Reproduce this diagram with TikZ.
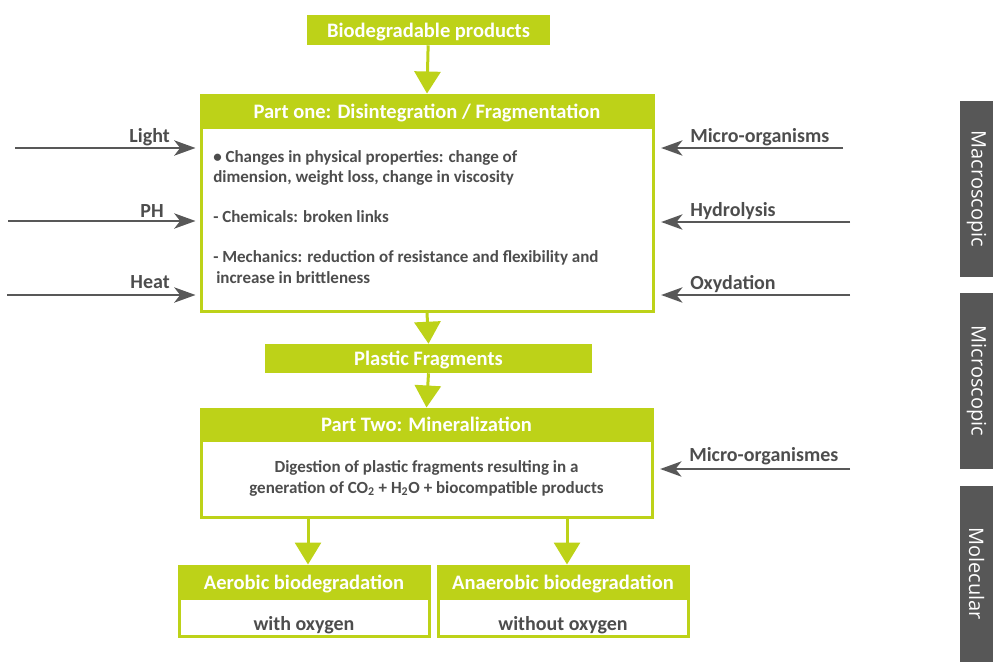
\documentclass[tikz,border=0pt]{standalone}
\usepackage{fontspec}
\setmainfont{Carlito}
\newfontfamily\barfont{Open Sans}
\usetikzlibrary{arrows.meta}
\definecolor{lime}{RGB}{189,210,24}
\definecolor{txtgray}{RGB}{77,77,77}
\definecolor{arrgray}{RGB}{88,88,88}
\definecolor{bargray}{RGB}{87,87,87}
\begin{document}
\begin{tikzpicture}[x=0.75pt,y=-0.75pt,
  gbox/.style={draw=none,fill=lime,text=white,font=\bfseries\fontsize{15.4}{18}\selectfont,inner sep=0pt,text depth=0pt},
  obox/.style={draw=lime,line width=2.25pt,fill=white,inner sep=0pt},
  body/.style={text=txtgray,font=\bfseries\fontsize{12.75}{15.75}\selectfont,inner sep=0pt},
  sublab/.style={text=txtgray,font=\bfseries\fontsize{15}{18}\selectfont,inner sep=0pt,text depth=0pt},
  lab/.style={text=txtgray,font=\bfseries\fontsize{15}{18}\selectfont,inner sep=0pt,text depth=0pt},
  garrow/.style={draw=lime,line width=2.25pt,-{Triangle[width=19.5pt,length=16.5pt]}},
  parrow/.style={draw=arrgray,line width=1.5pt,-{Stealth[length=16pt,width=11.5pt,inset=4.5pt]}},
  bar/.style={fill=bargray,draw=none,text=white,font=\barfont\fontsize{15}{18}\selectfont,inner sep=0pt,minimum height=24.75pt,minimum width=132pt,rotate=-90}
]
\useasboundingbox (0,0) rectangle (1000,665);
% top box
\node[gbox,minimum width=182.25pt,minimum height=22.5pt] (bio) at (428.5,30) {Biodegradable products};
% part one
\node[obox,minimum width=339pt,minimum height=162pt] (p1) at (427,203) {};
\node[gbox,minimum width=339pt,minimum height=26.25pt,anchor=north] (p1h) at (p1.north) {Part one: Disintegration / Fragmentation};
\node[body,anchor=west] (t1) at (213,158) {• Changes in physical properties: change of};
\node[body,anchor=west] (t2) at (213,178) {dimension, weight loss, change in viscosity};
\node[body,anchor=west] (t3) at (213,217) {- Chemicals: broken links};
\node[body,anchor=west] (t4) at (213,258) {- Mechanics: reduction of resistance and flexibility and};
\node[body,anchor=west] (t5) at (216,278) {increase in brittleness};
% plastic fragments
\node[gbox,minimum width=245.25pt,minimum height=21.75pt] (pf) at (428.5,358.5) {Plastic Fragments};
% part two
\node[obox,minimum width=338.25pt,minimum height=81pt] (p2) at (426.5,463) {};
\node[gbox,minimum width=338.25pt,minimum height=25.5pt,anchor=north] (p2h) at (p2.north) {Part Two: Mineralization};
\node[body,align=center] (t6) at (426.5,478) {Digestion of plastic fragments resulting in a\\generation of CO\textsubscript{2} + H\textsubscript{2}O + biocompatible products};
% aerobic
\node[obox,minimum width=187.5pt,minimum height=52.5pt] (a1) at (304,601) {};
\node[gbox,minimum width=187.5pt,minimum height=26.25pt,anchor=north] (a1h) at (a1.north) {Aerobic biodegradation};
\node[sublab] (a1t) at (304,623) {with oxygen};
\node[obox,minimum width=187.5pt,minimum height=52.5pt] (a2) at (563,601) {};
\node[gbox,minimum width=187.5pt,minimum height=26.25pt,anchor=north] (a2h) at (a2.north) {Anaerobic biodegradation};
\node[sublab] (a2t) at (563,623) {without oxygen};
% green arrows
\draw[garrow] (bio) -- (p1.north);
\draw[garrow] (p1.south) -- (pf.north);
\draw[garrow] (pf.south) -- (p2.north);
\draw[garrow] ([xshift=3pt]a1.north |- p2.south) -- ([xshift=3pt]a1.north);
\draw[garrow] ([xshift=3pt]a2.north |- p2.south) -- ([xshift=3pt]a2.north);
% left inputs
\coordinate (lL) at (15,148);
\coordinate (lP) at (8,221);
\coordinate (lH) at (7,295);
\draw[parrow] (lL) -- ([xshift=-3pt]p1.west |- lL);
\draw[parrow] (lP) -- ([xshift=-3pt]p1.west |- lP);
\draw[parrow] (lH) -- ([xshift=-3pt]p1.west |- lH);
\node[lab,anchor=east] (light) at (170,135) {Light};
\node[lab,anchor=east] (ph) at (164,211) {PH};
\node[lab,anchor=east] (heat) at (170,282) {Heat};
% right inputs
\coordinate (rM) at (843,148);
\coordinate (rH) at (850,222);
\coordinate (rO) at (850,295);
\coordinate (rM2) at (850,469);
\draw[parrow] (rM) -- ([xshift=5pt]p1.east |- rM);
\draw[parrow] (rH) -- ([xshift=5pt]p1.east |- rH);
\draw[parrow] (rO) -- ([xshift=5pt]p1.east |- rO);
\draw[parrow] (rM2) -- ([xshift=5pt]p2.east |- rM2);
\node[lab,anchor=west] (mo) at (690,135) {Micro-organisms};
\node[lab,anchor=west] (hy) at (690,209) {Hydrolysis};
\node[lab,anchor=west] (ox) at (690,282) {Oxydation};
\node[lab,anchor=west] (mo2) at (689,454) {Micro-organismes};
% side bars
\node[bar] (macro) at (976.5,189) {Macroscopic};
\node[bar] (micro) at (976.5,381) {Microscopic};
\node[bar] (mol) at (976.5,573.5) {Molecular};
\end{tikzpicture}
\end{document}
